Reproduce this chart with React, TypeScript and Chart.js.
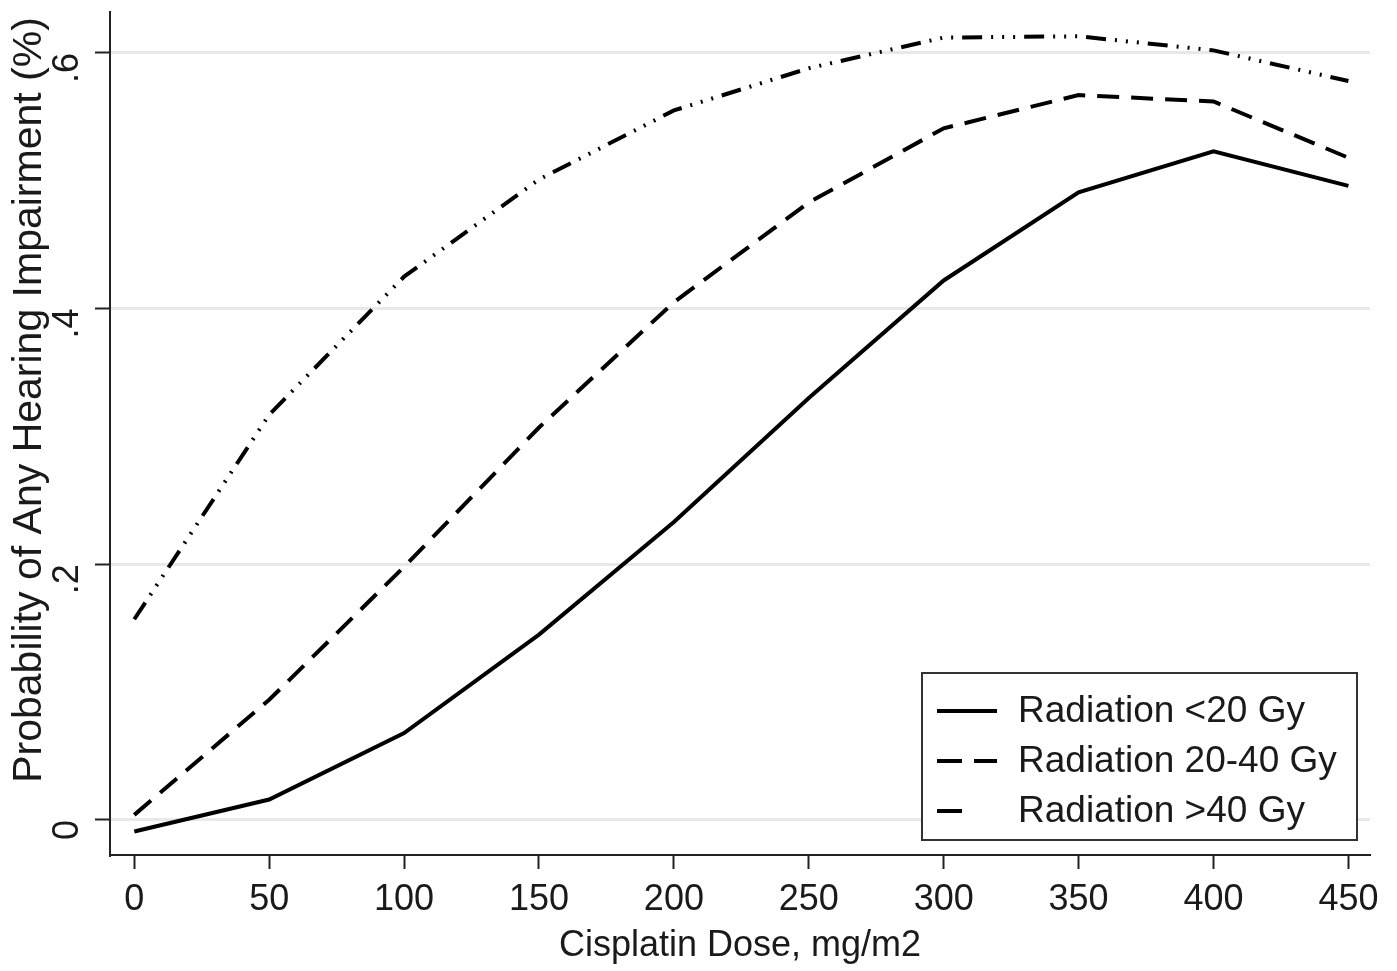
import React, { useEffect, useRef } from "react";
import { Chart, registerables } from "chart.js";

Chart.register(...registerables);

const doses = [0, 50, 100, 150, 200, 250, 300, 350, 400, 450];
const lowRad = [-0.009, 0.016, 0.068, 0.145, 0.233, 0.33, 0.422, 0.491, 0.523, 0.496];
const midRad = [0.004, 0.094, 0.198, 0.307, 0.405, 0.483, 0.541, 0.567, 0.562, 0.518];
const highRad = [0.157, 0.317, 0.425, 0.501, 0.555, 0.588, 0.612, 0.613, 0.602, 0.578];
const seriesLabels = ["Radiation <20 Gy", "Radiation 20-40 Gy", "Radiation >40 Gy"];
const xTicks = [0, 50, 100, 150, 200, 250, 300, 350, 400, 450];
const yTicks = [0, 0.2, 0.4, 0.6];
const xTitle = "Cisplatin Dose, mg/m2";
const yTitle = "Probability of Any Hearing Impairment (%)";

const FONT = "'Liberation Sans', Arial, sans-serif";
const TEXT = "#1a1a1a";

const legendPlugin = {
  id: "insideLegend",
  afterDraw(chart: any) {
    const { ctx, chartArea } = chart;
    const w = 435;
    const h = 167;
    const x0 = chartArea.right - 13 - w;
    const y0 = chartArea.bottom - 15 - h;
    ctx.save();
    ctx.fillStyle = "#ffffff";
    ctx.fillRect(x0, y0, w, h);
    ctx.strokeStyle = "#333333";
    ctx.lineWidth = 2;
    ctx.strokeRect(x0, y0, w, h);
    chart.data.datasets.forEach((ds: any, i: number) => {
      const cy = y0 + 38 + i * 50;
      ctx.beginPath();
      ctx.setLineDash(ds.legendDash || []);
      ctx.lineWidth = ds.borderWidth;
      ctx.strokeStyle = ds.borderColor;
      ctx.moveTo(x0 + 15, cy);
      ctx.lineTo(x0 + 75, cy);
      ctx.stroke();
      ctx.setLineDash([]);
      ctx.fillStyle = TEXT;
      ctx.font = `37px ${FONT}`;
      ctx.textBaseline = "middle";
      ctx.textAlign = "left";
      ctx.fillText(ds.label, x0 + 96, cy + 1);
    });
    // y axis title (offset upward like the original)
    ctx.translate(30, 400);
    ctx.rotate(-Math.PI / 2);
    ctx.font = `41px ${FONT}`;
    ctx.fillStyle = TEXT;
    ctx.textAlign = "center";
    ctx.textBaseline = "middle";
    ctx.fillText(yTitle, 0, 0);
    ctx.restore();
  },
};

export default function App() {
  const ref = useRef<HTMLCanvasElement>(null);
  useEffect(() => {
    document.body.style.margin = "0";
    const mk = (vals: number[]) => doses.map((d, i) => ({ x: d, y: vals[i] }));
    const chart = new Chart(ref.current!, {
      type: "line",
      data: {
        datasets: [
          {
            label: seriesLabels[0],
            data: mk(lowRad),
            borderColor: "#000000",
            borderWidth: 4,
            borderDash: [],
            pointRadius: 0,
            tension: 0,
            legendDash: [],
          } as any,
          {
            label: seriesLabels[1],
            data: mk(midRad),
            borderColor: "#000000",
            borderWidth: 4,
            borderDash: [22, 12],
            pointRadius: 0,
            tension: 0,
            legendDash: [25, 12],
          } as any,
          {
            label: seriesLabels[2],
            data: mk(highRad),
            borderColor: "#000000",
            borderWidth: 4,
            borderDash: [20, 9, 2, 9, 2, 9, 2, 9],
            pointRadius: 0,
            tension: 0,
            legendDash: [25, 100],
          } as any,
        ],
      },
      options: {
        animation: false,
        responsive: true,
        maintainAspectRatio: false,
        layout: { padding: { top: 12, right: 27, left: 0, bottom: 0 } },
        plugins: { legend: { display: false }, tooltip: { enabled: false } },
        scales: {
          x: {
            type: "linear",
            min: -9,
            max: 458,
            afterFit: (s: any) => {
              s.height = 116;
            },
            afterBuildTicks: (s: any) => {
              s.ticks = xTicks.map((v) => ({ value: v }));
            },
            grid: {
              drawOnChartArea: false,
              drawTicks: true,
              tickLength: 14,
              tickColor: "#222222",
              tickWidth: 2,
            },
            border: { display: true, color: "#222222", width: 2 },
            ticks: {
              color: TEXT,
              font: { family: FONT, size: 36 },
              padding: 9,
              maxRotation: 0,
              autoSkip: false,
            },
            title: {
              display: true,
              text: xTitle,
              color: TEXT,
              font: { family: FONT, size: 36 },
              padding: { top: 0, bottom: 3 },
            },
          },
          y: {
            type: "linear",
            min: -0.0274,
            max: 0.632,
            afterFit: (s: any) => {
              s.width = 110;
              s.paddingTop = 0;
              s.paddingBottom = 0;
            },
            afterBuildTicks: (s: any) => {
              s.ticks = yTicks.map((v) => ({ value: v }));
            },
            grid: {
              color: "#e8e8e8",
              lineWidth: 3,
              drawTicks: true,
              tickLength: 15,
              tickColor: "#222222",
              tickWidth: 2,
            },
            border: { display: true, color: "#222222", width: 2 },
            ticks: {
              color: TEXT,
              font: { family: FONT, size: 36 },
              padding: 27,
              minRotation: 90,
              maxRotation: 90,
              autoSkip: false,
              callback: (v: any) => (v === 0 ? "0" : String(Number(v).toFixed(1)).replace(/^0/, "")),
            },
            title: { display: false },
          },
        },
      },
      plugins: [legendPlugin],
    });
    return () => chart.destroy();
  }, []);
  return (
    <div style={{ position: "absolute", left: 0, top: 0, width: 1397, height: 971, background: "#fff" }}>
      <canvas ref={ref} />
    </div>
  );
}
